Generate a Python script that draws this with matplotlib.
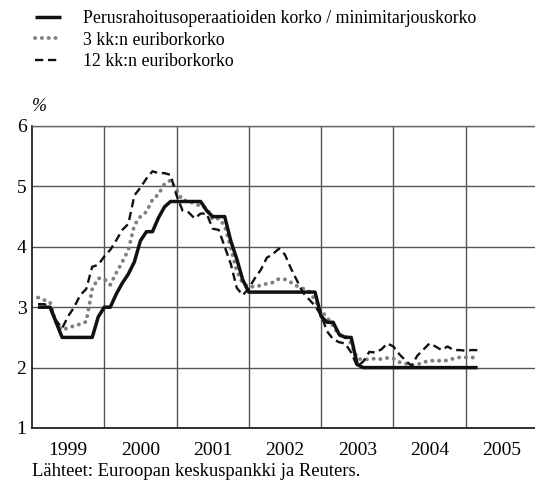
import numpy as np
import matplotlib.pyplot as plt

# Kuukausiarvot tammikuu 1999 - helmikuu 2005
refi = [3.0, 3.0, 3.0, 2.75, 2.5, 2.5, 2.5, 2.5, 2.5, 2.5, 2.84, 3.0,
        3.0, 3.22, 3.4, 3.55, 3.75, 4.1, 4.25, 4.25, 4.48, 4.66, 4.75, 4.75,
        4.75, 4.75, 4.75, 4.75, 4.6, 4.5, 4.5, 4.5, 4.1, 3.8, 3.45, 3.25,
        3.25, 3.25, 3.25, 3.25, 3.25, 3.25, 3.25, 3.25, 3.25, 3.25, 3.25, 2.85,
        2.75, 2.75, 2.55, 2.5, 2.5, 2.05, 2.0, 2.0, 2.0, 2.0, 2.0, 2.0,
        2.0, 2.0, 2.0, 2.0, 2.0, 2.0, 2.0, 2.0, 2.0, 2.0, 2.0, 2.0,
        2.0, 2.0]

euribor3 = [3.16, 3.12, 3.08, 2.75, 2.62, 2.66, 2.69, 2.72, 2.76, 3.3, 3.48, 3.47,
            3.37, 3.57, 3.75, 3.95, 4.36, 4.5, 4.58, 4.78, 4.87, 5.04, 5.1, 4.94,
            4.77, 4.76, 4.71, 4.68, 4.64, 4.45, 4.47, 4.35, 3.98, 3.6, 3.39, 3.34,
            3.34, 3.36, 3.39, 3.41, 3.47, 3.46, 3.41, 3.35, 3.31, 3.26, 3.12, 2.94,
            2.83, 2.69, 2.53, 2.53, 2.4, 2.15, 2.13, 2.14, 2.15, 2.14, 2.16, 2.15,
            2.09, 2.07, 2.03, 2.05, 2.09, 2.11, 2.12, 2.11, 2.12, 2.15, 2.17, 2.17,
            2.17, 2.15]

euribor12 = [3.05, 3.05, 3.02, 2.78, 2.65, 2.85, 3.0, 3.2, 3.3, 3.67, 3.7, 3.84,
             3.95, 4.11, 4.28, 4.38, 4.85, 4.98, 5.13, 5.25, 5.22, 5.22, 5.19, 4.85,
             4.6, 4.57, 4.47, 4.55, 4.55, 4.3, 4.28, 4.0, 3.72, 3.32, 3.2, 3.31,
             3.48, 3.62, 3.82, 3.88, 3.97, 3.87, 3.64, 3.44, 3.24, 3.13, 3.02, 2.87,
             2.6, 2.47, 2.42, 2.4, 2.25, 2.02, 2.1, 2.26, 2.25, 2.3, 2.4, 2.35,
             2.22, 2.12, 2.03, 2.2, 2.3, 2.4, 2.35, 2.29, 2.35, 2.29, 2.29, 2.28,
             2.29, 2.29]

years = [1999, 2000, 2001, 2002, 2003, 2004, 2005]
labels = ['Perusrahoitusoperaatioiden korko / minimitarjouskorko',
          '3 kk:n euriborkorko',
          '12 kk:n euriborkorko']

# kuukauden loppu
t = 1999 + (np.arange(len(refi)) + 1) / 12

plt.rcParams['font.family'] = ['Liberation Serif', 'DejaVu Serif']

fig = plt.figure(figsize=(5.35, 4.84), dpi=100)
ax = fig.add_axes([32 / 535, 1 - 428 / 484, 1 - 32 / 535, (428 - 126) / 484])

ax.plot(t, refi, color='#111111', lw=2.5, solid_capstyle='butt', label=labels[0], zorder=4)
ax.plot(t, euribor3, color='#808080', lw=2.8, linestyle=(0, (0.05, 1.7)),
        dash_capstyle='round', label=labels[1], zorder=3)
ax.plot(t, euribor12, color='#111111', lw=1.7, linestyle=(0, (3.5, 2.0)),
        label=labels[2], zorder=3)

ax.set_xlim(1999, 2005.96)
ax.set_ylim(1, 6)
ax.set_yticks([1, 2, 3, 4, 5, 6])
ax.set_xticks(years[1:])
ax.set_xticklabels([])
ax.set_xticks([y + 0.5 for y in years], minor=True)
ax.set_xticklabels([str(y) for y in years], minor=True)
ax.tick_params(axis='x', which='both', length=0, pad=10, labelsize=14)
ax.tick_params(axis='y', length=0, pad=4, labelsize=14)

ax.grid(True, which='major', color='#555555', lw=1.0)
ax.set_axisbelow(True)
for s in ['left', 'bottom']:
    ax.spines[s].set_color('#222222')
    ax.spines[s].set_linewidth(1.3)
ax.spines['top'].set_color('#666666')
ax.spines['top'].set_linewidth(1.0)
ax.spines['right'].set_visible(False)

ax.text(0.0, 1.035, '%', transform=ax.transAxes, fontsize=13, style='italic',
        ha='left', va='bottom')
fig.text(32 / 535, 1 - 471 / 484, 'Lähteet: Euroopan keskuspankki ja Reuters.',
         fontsize=13.4, ha='left', va='center')

fig.legend(loc='upper left', bbox_to_anchor=(0.035, 1.012), frameon=False,
           prop={'size': 12.8},
           handlelength=1.45, handletextpad=1.25, labelspacing=0.25)

fig.savefig('out.png', dpi=100)
